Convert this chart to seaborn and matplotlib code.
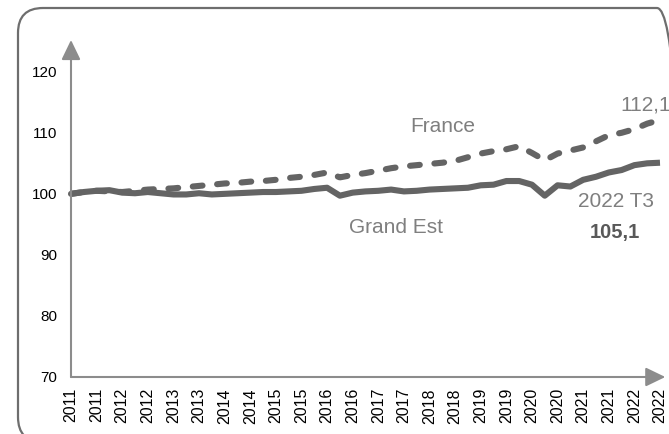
import numpy as np
import pandas as pd
import matplotlib.pyplot as plt
import seaborn as sns
from matplotlib.patches import FancyBboxPatch

# quarterly index, base 100 = 2011 T1, up to 2022 T3
years = [2011] * 4 + [y for y in range(2012, 2022) for _ in range(4)] + [2022] * 3
france = [100.0, 100.3, 100.5, 100.4, 100.3, 100.5, 100.7, 100.8, 100.9, 101.1,
          101.3, 101.5, 101.7, 101.8, 102.0, 102.1, 102.3, 102.6, 102.8, 103.1,
          103.5, 102.7, 103.1, 103.4, 103.8, 104.2, 104.5, 104.7, 104.9, 105.1,
          105.4, 106.0, 106.6, 107.0, 107.3, 107.8, 106.7, 105.5, 106.6, 107.1,
          107.6, 108.6, 109.6, 110.0, 110.6, 111.5, 112.1]
grand_est = [100.0, 100.3, 100.5, 100.6, 100.2, 100.1, 100.3, 100.1, 99.9, 99.9,
             100.1, 99.9, 100.0, 100.1, 100.2, 100.3, 100.3, 100.4, 100.5, 100.8,
             101.0, 99.7, 100.2, 100.4, 100.5, 100.7, 100.4, 100.5, 100.7, 100.8,
             100.9, 101.0, 101.4, 101.5, 102.1, 102.1, 101.5, 99.7, 101.4, 101.2,
             102.3, 102.8, 103.5, 103.9, 104.7, 105.0, 105.1]
y_ticks = [70, 80, 90, 100, 110, 120]

df = pd.DataFrame({"t": np.arange(len(years)), "France": france, "Grand Est": grand_est})

sns.set_style("white")
plt.rcParams["font.family"] = ["Liberation Sans", "DejaVu Sans"]

line_col = "#646464"
axis_col = "#8c8c8c"
label_col = "#7f7f7f"

fig = plt.figure(figsize=(6.69, 4.34), dpi=100)
ax = fig.add_axes([71 / 669, 57 / 434, 589 / 669, 337 / 434])

# rounded frame around the chart
frame = FancyBboxPatch((18, -8), 664, 434, boxstyle="round,pad=0,rounding_size=25",
                       transform=None, fill=False, edgecolor="#6e6e6e", linewidth=1.6)
fig.patches.append(frame)

sns.lineplot(data=df, x="t", y="France", ax=ax, color=line_col, linewidth=4.4,
             dashes=False, clip_on=False)
sns.lineplot(data=df, x="t", y="Grand Est", ax=ax, color=line_col, linewidth=4.4,
             clip_on=False)
fr_line = ax.lines[0]
fr_line.set_dashes((1.6, 2.4))
fr_line.set_dash_capstyle("round")
ax.lines[1].set_solid_capstyle("butt")

ax.set_xlim(0, len(years) - 1)
ax.set_ylim(70, 125.2)
ax.set_xticks(df["t"][::2])
ax.set_xticklabels([str(y) for y in years[::2]], rotation=90, fontsize=11.5)
ax.set_yticks(y_ticks)
ax.set_yticklabels([str(v) for v in y_ticks], fontsize=11)
ax.tick_params(axis="both", length=0, colors="black")
ax.tick_params(axis="x", pad=8)
ax.tick_params(axis="y", pad=10)
ax.set_xlabel("")
ax.set_ylabel("")
for s in ax.spines.values():
    s.set_visible(False)

# axes drawn as arrows
arrow = dict(arrowstyle="-|>,head_length=0.6,head_width=0.29", color=axis_col,
             lw=1.5, mutation_scale=20, shrinkA=0, shrinkB=0)
ax.annotate("", xy=(0, 1), xytext=(0, 0), xycoords="axes fraction", arrowprops=arrow)
ax.annotate("", xy=(1.009, 0), xytext=(0, 0), xycoords="axes fraction", arrowprops=arrow)

ax.text(29.0, 110.2, "France", fontsize=15, color=label_col, ha="center", va="baseline")
ax.text(25.4, 93.6, "Grand Est", fontsize=15, color=label_col, ha="center", va="baseline")
ax.text(42.6, 97.9, "2022 T3", fontsize=15, color=label_col, ha="center", va="baseline")
ax.text(42.5, 92.8, "105,1", fontsize=14.5, color="#595959", fontweight="bold",
        ha="center", va="baseline")
ax.text(42.9, 113.6, "112,1", fontsize=15, color=label_col, ha="left", va="baseline",
        clip_on=False)

fig.savefig("out.png", dpi=100)
